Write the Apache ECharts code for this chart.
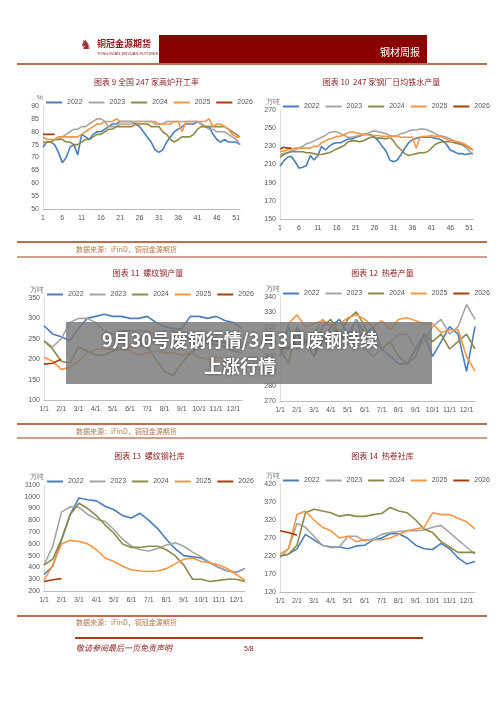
<!DOCTYPE html>
<html><head><meta charset="utf-8">
<script src="https://cdn.jsdelivr.net/npm/echarts@6/dist/echarts.min.js"></script>
<style>html,body{margin:0;padding:0;background:#fff}#c{width:500px;height:707px}</style>
</head><body><div id="c"></div>
<script>
// 年份与颜色
const years = ['2022', '2023', '2024', '2025', '2026']
const colors = ['#4a7ebb', '#a5a5a5', '#8c8a4a', '#f79646', '#a0400f']

// 周度横轴 1..52
const weeks = Array.from({length: 52}, (_, i) => String(i + 1))
// 半月横轴
const halfMonths = ['1/1','','2/1','','3/1','','4/1','','5/1','','6/1','','7/1','','8/1','','9/1','','10/1','','11/1','','12/1','']

// 图表9 高炉开工率
const blast2022 = [74,76,76,75,72,68,70,74,75,71,79,78,77,79,80,80,81,82,83,83,84,84,84,84,83,82,80,78,76,73,72,73,76,78,80,81,82,83,83,83,84,83,82,82,79,77,76,77,76,76,76,75]
const blast2023 = [75,76,76,77,77,78,79,80,81,81,82,82,83,84,85,85,84,82,82,82,83,83,83,83,84,84,84,84,84,83,83,83,84,84,84,84,84,84,84,84,84,83,82,81,81,80,80,80,79,78,77,75]
const blast2024 = [76,76,76,77,77,77,76,76,75,75,76,77,77,78,79,79,80,81,81,82,82,82,82,82,83,83,83,83,82,82,82,80,79,77,76,77,78,78,78,79,81,82,82,82,82,82,82,82,81,80,79,78]
const blast2025 = [78,77,77,77,78,78,78,78,78,78,79,80,81,82,83,83,84,84,84,85,84,84,84,84,84,84,84,84,84,84,83,83,83,83,84,84,80,84,84,84,84,84,84,85,82,83,83,82,81,79,78,78]
const blast2026 = [79,79,79,79]

// 图表10 日均铁水产量
const iron2022 = [208,214,218,219,213,206,207,209,220,215,220,230,226,230,233,234,234,236,238,238,240,241,243,243,243,240,236,230,225,215,213,215,221,228,234,237,239,240,240,240,240,239,238,236,232,226,224,222,222,221,222,222]
const iron2023 = [221,222,223,225,226,228,230,233,234,236,238,240,242,245,246,246,244,242,240,240,241,242,243,244,246,247,246,245,244,242,241,242,244,245,247,248,248,249,249,248,246,244,242,241,240,238,236,234,232,229,225,221]
const iron2024 = [218,221,223,224,224,224,224,223,223,222,221,221,222,223,225,227,229,231,235,236,236,235,236,238,240,240,239,239,238,240,236,230,226,222,220,221,222,223,223,224,228,232,234,235,235,235,234,233,232,231,228,226]
const iron2025 = [224,225,226,227,228,228,228,228,228,230,230,234,236,238,239,241,241,243,245,246,245,244,243,243,242,242,242,241,241,240,241,241,240,240,240,240,228,240,241,241,242,241,241,240,238,236,236,235,234,232,229,226]
const iron2026 = [227,229,228,228]

// 图表11 螺纹钢产量
const rebar2022 = [282,262,255,245,275,300,305,310,305,305,300,300,305,290,280,275,275,305,305,300,305,295,290,275]
const rebar2023 = [245,230,250,290,300,300,290,270,260,270,270,270,270,260,270,270,255,250,245,245,245,240,230,230]
const rebar2024 = [245,225,195,190,230,220,210,210,220,225,230,235,230,200,170,160,190,215,230,240,235,230,220,215]
const rebar2025 = [205,195,175,180,195,215,225,225,225,230,220,210,215,220,215,215,210,215,205,200,205,200,185,178]
const rebar2026 = [188,190,200]

// 图表12 热卷产量
const hrc2022 = [300,320,305,310,300,310,320,325,315,325,315,320,305,300,295,295,305,315,300,310,320,315,290,320]
const hrc2023 = [300,305,315,310,315,325,320,315,310,325,305,300,305,310,315,315,305,310,320,325,315,320,335,325]
const hrc2024 = [305,295,320,310,300,320,325,315,325,330,320,310,305,310,300,295,300,315,310,315,305,310,315,305]
const hrc2025 = [303,322,328,320,322,324,320,322,326,328,325,320,324,318,325,326,324,322,322,316,318,318,300,290]
const hrc2026 = [304,306,308]

// 图表13 螺纹钢社库
const rebarStock2022 = [340,410,630,850,990,975,965,920,890,840,820,860,800,730,640,560,500,490,480,440,400,370,360,390]
const rebarStock2023 = [420,580,870,915,910,850,810,790,720,640,580,550,540,560,590,610,580,530,490,440,400,370,360,390]
const rebarStock2024 = [420,470,640,850,945,900,840,760,690,600,570,570,580,580,550,500,420,300,300,280,290,300,300,280]
const rebarStock2025 = [290,420,600,630,620,600,550,480,450,410,380,370,365,370,390,430,470,480,450,440,420,390,340,290]
const rebarStock2026 = [280,295,305]

// 图表14 热卷社库
const hrcStock2022 = [220,225,240,280,265,250,245,245,240,248,250,265,270,282,282,270,250,240,238,255,240,215,198,205]
const hrcStock2023 = [215,240,310,300,275,250,243,245,275,275,262,268,280,285,288,290,290,292,300,305,285,265,245,225]
const hrcStock2024 = [220,225,250,340,350,345,340,330,335,330,330,335,338,355,345,340,320,295,285,260,245,230,230,230]
const hrcStock2025 = [225,240,335,345,320,300,290,270,275,260,265,265,265,270,280,290,295,300,340,335,335,325,315,295]
const hrcStock2026 = [290,285,278]

const charts = [
  {title: '图表 9 全国 247 家高炉开工率', unit: '%', box: [43,106,197,103], x: weeks, min: 50, max: 90, step: 5, data: [blast2022,blast2023,blast2024,blast2025,blast2026]},
  {title: '图表 10  247 家钢厂日均铁水产量', unit: '万吨', box: [280,110,193,109], x: weeks, min: 150, max: 270, step: 20, data: [iron2022,iron2023,iron2024,iron2025,iron2026]},
  {title: '图表 11  螺纹钢产量', unit: '万吨', box: [44,298,198,102], x: halfMonths, min: 100, max: 350, step: 50, data: [rebar2022,rebar2023,rebar2024,rebar2025,rebar2026]},
  {title: '图表 12  热卷产量', unit: '万吨', box: [280,297,195,104], x: halfMonths, min: 270, max: 340, step: 10, data: [hrc2022,hrc2023,hrc2024,hrc2025,hrc2026]},
  {title: '图表 13  螺纹钢社库', unit: '万吨', box: [44,485,201,106], x: halfMonths, min: 200, max: 1100, step: 100, data: [rebarStock2022,rebarStock2023,rebarStock2024,rebarStock2025,rebarStock2026]},
  {title: '图表 14  热卷社库', unit: '万吨', box: [280,484,195,108], x: halfMonths, min: 120, max: 420, step: 50, data: [hrcStock2022,hrcStock2023,hrcStock2024,hrcStock2025,hrcStock2026]}
]

const red = '#8b1a1a'
const rule = '#a0401a'
const grid = [], xAxis = [], yAxis = [], series = [], legend = [], title = []

charts.forEach((c, i) => {
  const [l, t, w, h] = c.box
  grid.push({left: l, top: t, width: w, height: h})
  const weekly = c.x === weeks
  xAxis.push({
    type: 'category', gridIndex: i, data: c.x, boundaryGap: false,
    axisLine: {lineStyle: {color: '#bbb'}}, axisTick: {show: false},
    axisLabel: {fontSize: 7, color: '#555', margin: 6, interval: weekly ? 4 : 0}
  })
  yAxis.push({
    type: 'value', gridIndex: i, min: c.min, max: c.max, interval: c.step,
    name: c.unit, nameGap: 4, nameTextStyle: {fontSize: 7, color: '#777', align: 'right'},
    axisLine: {show: true, lineStyle: {color: '#ddd'}}, axisTick: {show: false}, splitLine: {show: false},
    axisLabel: {fontSize: 7, color: '#555', margin: 4, formatter: v => String(v)}
  })
  c.data.forEach((d, k) => {
    series.push({
      type: 'line', name: years[k], xAxisIndex: i, yAxisIndex: i, data: d,
      showSymbol: false, lineStyle: {width: 1.6, color: colors[k]}, itemStyle: {color: colors[k]}
    })
  })
  legend.push({
    data: years, left: l - 2, top: t - 12, itemWidth: 16, itemHeight: 2, itemGap: 6, icon: 'rect',
    textStyle: {fontSize: 7, color: '#555'}
  })
  title.push({
    text: c.title, left: l + w / 2, textAlign: 'center', top: [73, 73, 264, 264, 447, 447][i],
    textStyle: {fontSize: 8, fontWeight: 'normal', color: red, fontFamily: 'Noto Sans CJK SC'}
  })
})

const hline = (x1, x2, y, wdt) => ({type: 'line', shape: {x1, y1: y, x2, y2: y}, style: {stroke: rule, lineWidth: wdt}})
const src = (y) => ({type: 'text', left: 76, top: y, style: {text: '数据来源：iFinD，铜冠金源期货', fontSize: 7, fill: '#b8734a', fontFamily: 'Noto Sans CJK SC'}})

const graphic = [
  {type: 'rect', shape: {x: 159, y: 35, width: 268, height: 28}, style: {fill: '#8b0000'}},
  {type: 'text', left: 380, top: 47, style: {text: '钢材周报', fontSize: 10, fill: '#fff', fontFamily: 'Noto Sans CJK SC'}},
  {type: 'text', left: 97, top: 39, style: {text: '铜冠金源期货', fontSize: 9, fontWeight: 'bold', fill: '#8b1a1a', fontFamily: 'Noto Sans CJK SC'}},
  {type: 'text', left: 97, top: 52, style: {text: 'TONGGUAN JINYUAN FUTURES', fontSize: 4, fill: '#8b1a1a'}},
  {type: 'text', left: 80, top: 39, style: {text: '♞', fontSize: 13, fill: '#a0302a'}},
  hline(17, 487, 64, 1.5),
  hline(17, 487, 242, 1.5), src(246), hline(17, 487, 257, 1.2),
  hline(17, 487, 424, 1.5), src(428), hline(17, 487, 438, 1.2),
  hline(17, 487, 616, 1.5), src(619), hline(75, 423, 638, 2),
  {type: 'text', left: 76, top: 644, style: {text: '敬请参阅最后一页免责声明', fontSize: 8, fontStyle: 'italic', fill: '#8b1a1a', fontFamily: 'Noto Sans CJK SC'}},
  {type: 'text', left: 244, top: 646, style: {text: '5/8', fontSize: 7, fill: '#8b1a1a'}},
  {type: 'rect', shape: {x: 66, y: 322, width: 366, height: 62}, style: {fill: 'rgba(120,120,120,0.82)'}, z: 100},
  {type: 'text', x: 240, y: 340, style: {text: '9月30号废钢行情/3月3日废钢持续', fontSize: 18, fontWeight: 'bold', fill: '#fff', align: 'center', verticalAlign: 'middle', fontFamily: 'Noto Sans CJK SC', textShadowColor: 'rgba(0,0,0,0.6)', textShadowBlur: 3}, z: 101},
  {type: 'text', x: 240, y: 366, style: {text: '上涨行情', fontSize: 18, fontWeight: 'bold', fill: '#fff', align: 'center', verticalAlign: 'middle', fontFamily: 'Noto Sans CJK SC', textShadowColor: 'rgba(0,0,0,0.6)', textShadowBlur: 3}, z: 101}
]

const chart = echarts.init(document.getElementById('c'))
chart.setOption({animation: false, title, legend, grid, xAxis, yAxis, series, graphic})
</script></body></html>
